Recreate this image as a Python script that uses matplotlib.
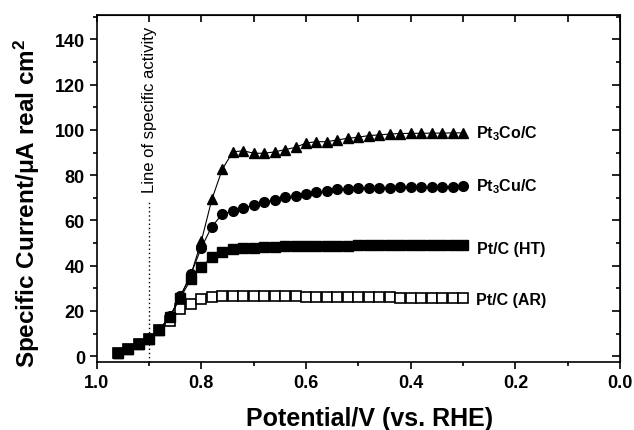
import matplotlib
matplotlib.use("Agg")
import matplotlib.pyplot as plt
from matplotlib.ticker import MultipleLocator, FormatStrFormatter

plt.rcParams["font.family"] = ["Liberation Sans", "DejaVu Sans"]
plt.rcParams["mathtext.fontset"] = "custom"
plt.rcParams["mathtext.rm"] = "Liberation Sans:bold"
plt.rcParams["mathtext.bf"] = "Liberation Sans:bold"
plt.rcParams["mathtext.it"] = "Liberation Sans:bold"
plt.rcParams["mathtext.default"] = "rm"

# potential (V vs. RHE)
potential = [0.96, 0.94, 0.92, 0.90, 0.88, 0.86, 0.84, 0.82, 0.80, 0.78,
             0.76, 0.74, 0.72, 0.70, 0.68, 0.66, 0.64, 0.62, 0.60, 0.58,
             0.56, 0.54, 0.52, 0.50, 0.48, 0.46, 0.44, 0.42, 0.40, 0.38,
             0.36, 0.34, 0.32, 0.30]

pt3co = [1.5, 3.3, 5.5, 7.4, 11.8, 17.6,
         26.5, 36.0, 50.9, 69.3, 82.6, 90.3, 90.8, 89.7, 89.7, 90.3,
         91.3, 92.3, 94.2, 94.8, 94.8, 95.6, 96.3, 96.8, 97.5, 97.8,
         98.2, 98.4, 98.5, 98.5, 98.6, 98.6, 98.7, 98.7]

pt3cu = [1.5, 3.3, 5.5, 7.4, 11.8, 17.6,
         26.5, 36.2, 48.0, 57.3, 62.8, 64.2, 65.3, 66.8, 68.0, 69.1,
         70.2, 70.9, 71.9, 72.6, 73.0, 73.8, 74.1, 74.2, 74.4, 74.5,
         74.5, 74.6, 74.7, 74.8, 74.9, 75.0, 75.0, 75.1]

ptc_ht = [1.5, 3.3, 5.5, 7.4, 11.8, 17.4, 25.9, 34.0, 39.5, 43.8,
          46.0, 47.2, 47.7, 48.0, 48.2, 48.4, 48.5, 48.6, 48.7, 48.8,
          48.8, 48.9, 48.9, 49.0, 49.0, 49.0, 49.1, 49.1, 49.1, 49.2,
          49.2, 49.2, 49.2, 49.2]

ptc_ar = [1.5, 3.3, 5.5, 7.4, 11.5, 15.5, 20.7, 23.3, 25.4, 26.3,
          26.7, 26.8, 26.7, 26.6, 26.5, 26.5, 26.4, 26.4, 26.3, 26.3,
          26.2, 26.2, 26.1, 26.1, 26.0, 26.0, 26.0, 25.9, 25.9, 25.9,
          25.8, 25.8, 25.8, 25.8]

labels = [r"Pt$_3$Co/C", r"Pt$_3$Cu/C", "Pt/C (HT)", "Pt/C (AR)"]
label_pos = [(0.276, 98.9), (0.276, 75.3), (0.273, 47.4), (0.276, 25.0)]

fig = plt.figure(figsize=(6.34, 4.31), dpi=100)
ax = fig.add_axes([0.1525, 0.158, 0.8255, 0.806])

ax.plot(potential, ptc_ar, "-s", color="black", lw=0.8, ms=6.5,
        mfc="white", mec="black", mew=1.2)
ax.plot(potential, ptc_ht, "-s", color="black", lw=0.8, ms=6.5)
ax.plot(potential, pt3cu, "-o", color="black", lw=0.8, ms=7)
ax.plot(potential, pt3co, "-^", color="black", lw=0.8, ms=7.5)

for text, (x, y) in zip(labels, label_pos):
    ax.text(x, y, text, ha="left", va="center", fontsize=11.5,
            fontweight="bold")

# line of specific activity
ax.plot([0.9, 0.9], [-2.5, 69], ls=(0, (1, 2)), color="black", lw=1)
ax.text(0.9, 72.5, "Line of specific activity", rotation=90,
        ha="center", va="bottom", fontsize=12)

ax.set_xlim(1.0, 0.0)
ax.set_ylim(-2.5, 151)

ax.xaxis.set_major_locator(MultipleLocator(0.2))
ax.xaxis.set_minor_locator(MultipleLocator(0.1))
ax.set_yticks(range(0, 141, 20))
ax.yaxis.set_minor_locator(MultipleLocator(10))
ax.xaxis.set_major_formatter(FormatStrFormatter("%.1f"))

ax.tick_params(which="major", direction="out", length=5, width=1.2,
               labelsize=13)
ax.tick_params(which="minor", direction="out", length=3, width=1.2)
for lab in ax.get_xticklabels() + ax.get_yticklabels():
    lab.set_fontweight("bold")

# mirrored inward ticks on top and right
top = ax.secondary_xaxis("top")
top.xaxis.set_major_locator(MultipleLocator(0.2))
top.xaxis.set_minor_locator(MultipleLocator(0.1))
top.tick_params(which="both", direction="in", length=5, width=1.2,
                labeltop=False)
right = ax.secondary_yaxis("right")
right.yaxis.set_major_locator(MultipleLocator(20))
right.yaxis.set_minor_locator(MultipleLocator(10))
right.tick_params(which="major", direction="in", length=6, width=1.2,
                  labelright=False)
right.tick_params(which="minor", direction="in", length=3, width=1.2,
                  labelright=False)

for sp in ax.spines.values():
    sp.set_linewidth(1.2)

ax.set_xlabel("Potential/V (vs. RHE)", fontsize=18, fontweight="bold")
ax.set_ylabel("Specific Current/\u03bcA real cm$^2$", fontsize=17.5,
              fontweight="bold")
ax.xaxis.set_label_coords(0.522, -0.128)
ax.yaxis.set_label_coords(-0.104, 0.46)

fig.savefig("out.png", dpi=100)
